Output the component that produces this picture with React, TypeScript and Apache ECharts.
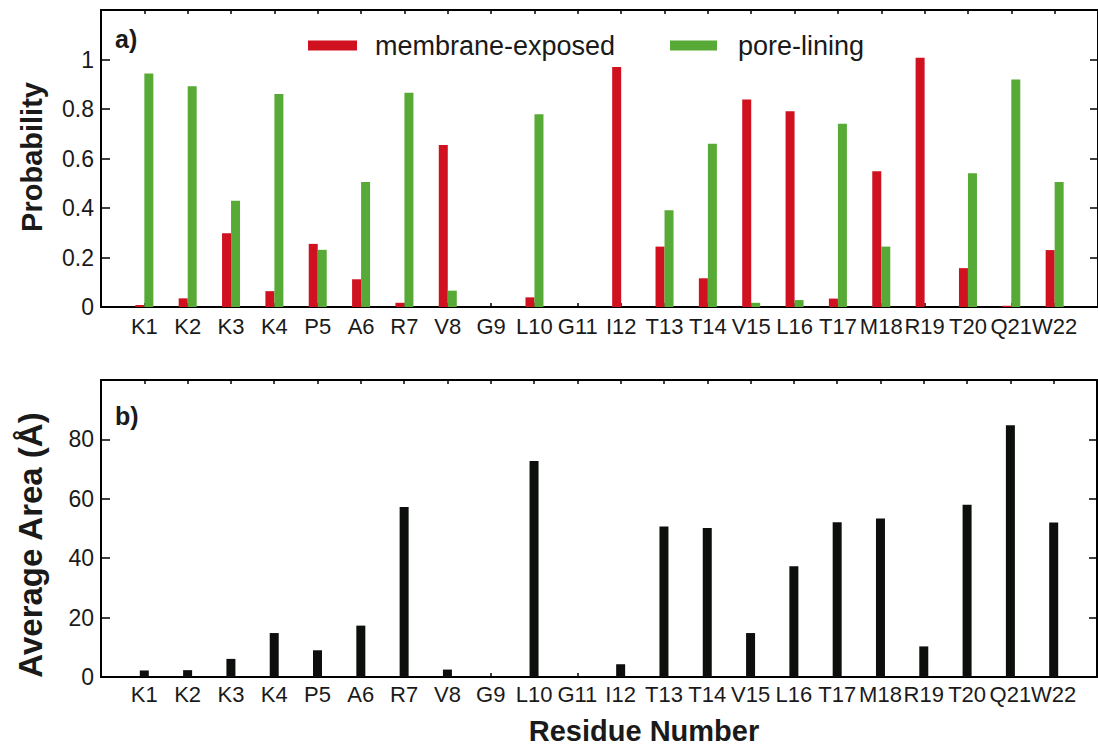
import React, { useEffect, useRef } from "react";
import * as echarts from "echarts";

// Residue labels along the peptide
const residues = [
  "K1", "K2", "K3", "K4", "P5", "A6", "R7", "V8", "G9", "L10", "G11",
  "I12", "T13", "T14", "V15", "L16", "T17", "M18", "R19", "T20", "Q21", "W22",
];

// Panel a) probabilities
const membraneExposed = [
  0.008, 0.035, 0.298, 0.064, 0.255, 0.112, 0.017, 0.655, 0, 0.039, 0,
  0.97, 0.244, 0.116, 0.838, 0.791, 0.034, 0.548, 1.007, 0.157, 0.005, 0.23,
];
const poreLining = [
  0.943, 0.892, 0.429, 0.861, 0.231, 0.505, 0.866, 0.066, 0, 0.779, 0,
  0, 0.391, 0.66, 0.017, 0.028, 0.74, 0.244, 0, 0.54, 0.919, 0.505,
];

// Panel b) average exposed area
const averageArea = [
  2.2, 2.3, 6.1, 14.8, 9.0, 17.3, 57.2, 2.5, 0, 72.7, 0,
  4.3, 50.7, 50.2, 14.8, 37.3, 52.1, 53.4, 10.3, 58.0, 84.8, 52.0,
];

const FONT = "Liberation Sans, Arial, Helvetica, sans-serif";
const RED = "#D0111F";
const GREEN = "#57AA35";
const BLACK = "#0d0f0d";
const INK = "#1a1a1a";

const toPoints = (vals: number[]) => vals.map((v, i) => [i + 1, v]);

function bottomXAxis(gridIndex: number, labelMargin: number) {
  return {
    type: "value",
    gridIndex,
    position: "bottom",
    min: 0,
    max: 23,
    interval: 1,
    axisLine: { show: true, onZero: false, lineStyle: { color: "#000", width: 2 } },
    axisTick: { show: true, inside: true, length: 4, lineStyle: { color: "#000", width: 1.5 } },
    axisLabel: {
      show: true,
      margin: labelMargin,
      fontFamily: FONT,
      fontSize: 22,
      color: INK,
      formatter: (v: number) => residues[Math.round(v) - 1] ?? "",
      showMinLabel: false,
      showMaxLabel: false,
    },
    splitLine: { show: false },
  };
}

function topXAxis(gridIndex: number) {
  return {
    type: "value",
    gridIndex,
    position: "top",
    min: 0,
    max: 23,
    interval: 1,
    axisLine: { show: true, onZero: false, lineStyle: { color: "#000", width: 2 } },
    axisTick: { show: true, inside: true, length: 4, lineStyle: { color: "#000", width: 1.5 } },
    axisLabel: { show: false },
    splitLine: { show: false },
  };
}

function leftYAxis(gridIndex: number, max: number, interval: number) {
  return {
    type: "value",
    gridIndex,
    position: "left",
    min: 0,
    max,
    interval,
    axisLine: { show: true, onZero: false, lineStyle: { color: "#000", width: 2 } },
    axisTick: { show: true, inside: true, length: 9, lineStyle: { color: "#000", width: 1.5 } },
    axisLabel: {
      show: true,
      margin: 7,
      fontFamily: FONT,
      fontSize: 23,
      color: INK,
      showMaxLabel: false,
    },
    splitLine: { show: false },
  };
}

function rightYAxis(gridIndex: number, max: number, interval: number) {
  return {
    type: "value",
    gridIndex,
    position: "right",
    min: 0,
    max,
    interval,
    axisLine: { show: true, onZero: false, lineStyle: { color: "#000", width: 2 } },
    axisTick: { show: true, inside: true, length: 8, lineStyle: { color: "#000", width: 1.5 } },
    axisLabel: { show: false },
    splitLine: { show: false },
  };
}

export default function App() {
  const ref = useRef<HTMLDivElement>(null);

  useEffect(() => {
    if (!ref.current) return;
    const chart = echarts.init(ref.current, undefined, { renderer: "svg" });

    const legendText = { fontFamily: FONT, fontSize: 27, color: INK, padding: [0, 0, 0, 13] };

    chart.setOption({
      animation: false,
      backgroundColor: "#ffffff",
      grid: [
        { left: 101, top: 10, width: 998, height: 297, containLabel: false },
        { left: 101, top: 380, width: 996, height: 297, containLabel: false },
      ],
      legend: [
        {
          data: ["membrane-exposed"],
          left: 303,
          top: 27,
          icon: "rect",
          itemWidth: 49,
          itemHeight: 10,
          textStyle: legendText,
        },
        {
          data: ["pore-lining"],
          left: 665,
          top: 27,
          icon: "rect",
          itemWidth: 47,
          itemHeight: 10,
          textStyle: { ...legendText, padding: [0, 0, 0, 16] },
        },
      ],
      xAxis: [bottomXAxis(0, 8), topXAxis(0), bottomXAxis(1, 6), topXAxis(1)],
      yAxis: [
        leftYAxis(0, 1.2, 0.2),
        rightYAxis(0, 1.2, 0.2),
        leftYAxis(1, 100, 20),
        rightYAxis(1, 100, 20),
      ],
      series: [
        {
          name: "membrane-exposed",
          type: "bar",
          xAxisIndex: 0,
          yAxisIndex: 0,
          data: toPoints(membraneExposed),
          barWidth: 9,
          barGap: "0%",
          itemStyle: { color: RED },
        },
        {
          name: "pore-lining",
          type: "bar",
          xAxisIndex: 0,
          yAxisIndex: 0,
          data: toPoints(poreLining),
          barWidth: 9,
          barGap: "0%",
          itemStyle: { color: GREEN },
        },
        {
          name: "average area",
          type: "bar",
          xAxisIndex: 2,
          yAxisIndex: 2,
          data: toPoints(averageArea),
          barWidth: 9,
          itemStyle: { color: BLACK },
        },
      ],
      graphic: [
        {
          type: "text",
          x: 32,
          y: 157,
          rotation: Math.PI / 2,
          style: {
            text: "Probability",
            fontFamily: FONT,
            fontSize: 29,
            fontWeight: "bold",
            fill: INK,
            align: "center",
            verticalAlign: "middle",
          },
        },
        {
          type: "text",
          x: 30,
          y: 545,
          rotation: Math.PI / 2,
          style: {
            text: "Average Area (Å)",
            fontFamily: FONT,
            fontSize: 33,
            fontWeight: "bold",
            fill: INK,
            align: "center",
            verticalAlign: "middle",
          },
        },
        {
          type: "text",
          x: 644,
          y: 731,
          style: {
            text: "Residue Number",
            fontFamily: FONT,
            fontSize: 29,
            fontWeight: "bold",
            fill: INK,
            align: "center",
            verticalAlign: "middle",
          },
        },
        {
          type: "text",
          x: 115,
          y: 39,
          style: {
            text: "a)",
            fontFamily: FONT,
            fontSize: 25,
            fontWeight: "bold",
            fill: INK,
            align: "left",
            verticalAlign: "middle",
          },
        },
        {
          type: "text",
          x: 115,
          y: 416,
          style: {
            text: "b)",
            fontFamily: FONT,
            fontSize: 25,
            fontWeight: "bold",
            fill: INK,
            align: "left",
            verticalAlign: "middle",
          },
        },
      ],
    });

    return () => chart.dispose();
  }, []);

  return (
    <div
      ref={ref}
      style={{ position: "fixed", left: 0, top: 0, width: 1098, height: 748, background: "#fff" }}
    />
  );
}
